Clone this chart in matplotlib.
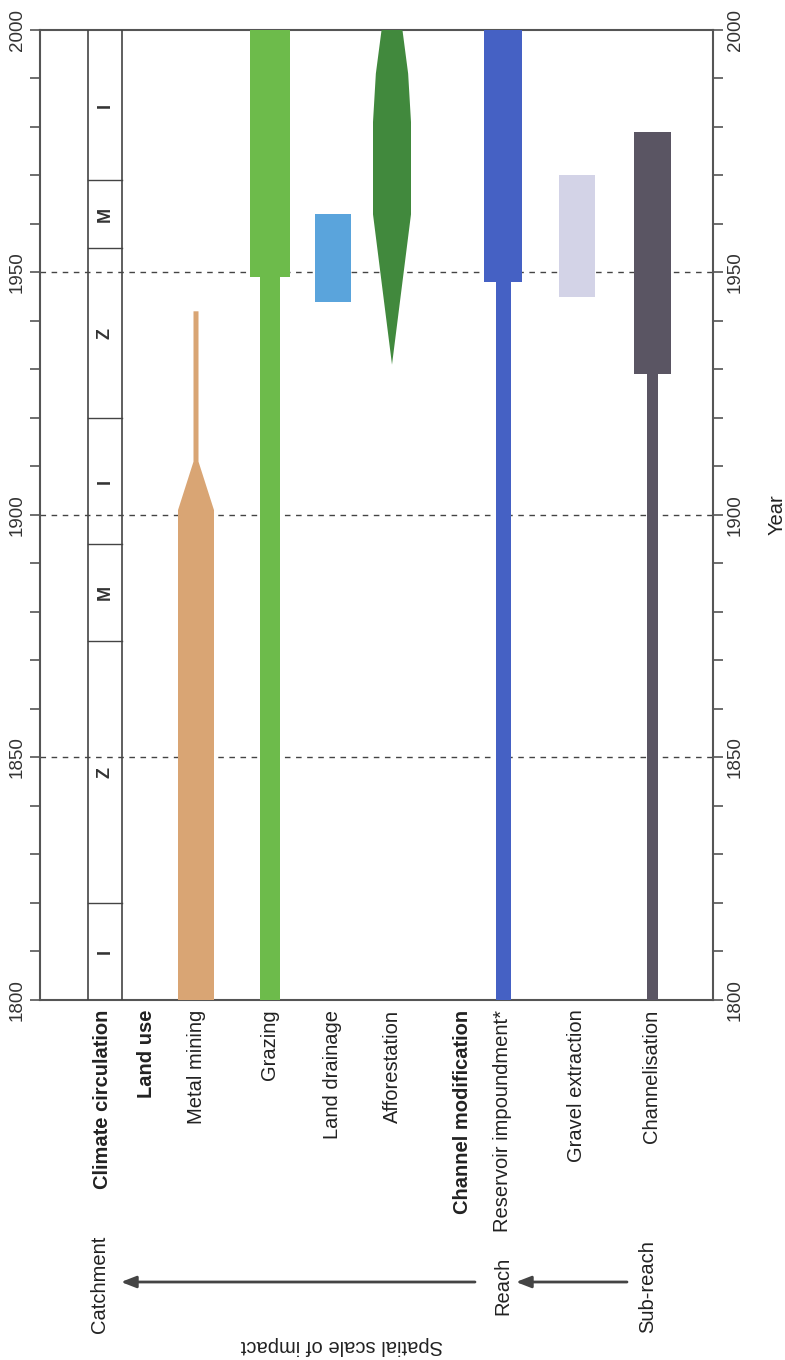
import matplotlib
matplotlib.use("Agg")
import matplotlib.pyplot as plt
from matplotlib.patches import Polygon, Rectangle

plt.rcParams['font.family'] = ['Liberation Sans', 'DejaVu Sans']

# --- DATA (years) ---
climate_bounds = [1800, 1820, 1874, 1894, 1920, 1955, 1969, 2000]
climate_phases = ["I", "Z", "M", "I", "Z", "M", "I"]

mining_years = [1800, 1901, 1911, 1942]        # wide -> taper -> narrow
grazing_years = [1800, 1949, 2000]             # narrow, then wide
drainage_years = [1944, 1962]
afforest_years = [1931, 1962, 1981, 1991, 2000]
afforest_rel_width = [0.0, 1.0, 1.0, 0.85, 0.55]
reservoir_years = [1800, 1948, 2000]
gravel_years = [1945, 1970]
channel_years = [1800, 1929, 1979]

decade_lines = [1850, 1900, 1950]
major_ticks = [1800, 1850, 1900, 1950, 2000]

row_labels = ["Climate circulation", "Land use", "Metal mining", "Grazing",
              "Land drainage", "Afforestation", "Channel modification",
              "Reservoir impoundment*", "Gravel extraction", "Channelisation"]
row_bold = [True, True, False, False, False, False, True, False, False, False]

# --- LAYOUT (horizontal positions, axes units = pixels from left spine) ---
row_x = [63, 106, 156, 230, 293, 352, 422, 463, 537, 612]
climate_edges = (48, 82)
colors = {
    "mining": "#d9a574", "grazing": "#6dbb4b", "drainage": "#5aa4dc",
    "afforest": "#41893d", "reservoir": "#4561c4", "gravel": "#d3d3e7",
    "channel": "#5a5563",
}
dark = "#444444"

W, H = 785, 1360
fig = plt.figure(figsize=(W / 100, H / 100), dpi=100)
ax = fig.add_axes([40 / W, 1 - 1000 / H, 673 / W, 970 / H])
ax.set_xlim(0, 673)
ax.set_ylim(1800, 2000)


def fpx(x, y):
    return x / W, 1 - y / H


def bar(xc, width, y0, y1, color):
    ax.add_patch(Rectangle((xc - width / 2, y0), width, y1 - y0,
                           facecolor=color, edgecolor="none", zorder=3))


# dashed reference years
for yr in decade_lines:
    ax.axhline(yr, color=dark, lw=1, ls=(0, (4, 4)), zorder=2)

# climate circulation column
for xe in climate_edges:
    ax.plot([xe, xe], [1800, 2000], color=dark, lw=1.2, zorder=4)
for b in climate_bounds[1:-1]:
    ax.plot(climate_edges, [b, b], color=dark, lw=1, zorder=4)
for i, ph in enumerate(climate_phases):
    mid = (climate_bounds[i] + climate_bounds[i + 1]) / 2
    ax.text(sum(climate_edges) / 2, mid, ph, rotation=90, ha="center",
            va="center", fontsize=13, fontweight="bold", color="#333333")

# metal mining: wide block tapering into a narrow strip
xm, wm, nm = row_x[2], 36, 5
ax.add_patch(Polygon([
    (xm - wm / 2, mining_years[0]), (xm + wm / 2, mining_years[0]),
    (xm + wm / 2, mining_years[1]), (xm + nm / 2, mining_years[2]),
    (xm + nm / 2, mining_years[3]), (xm - nm / 2, mining_years[3]),
    (xm - nm / 2, mining_years[2]), (xm - wm / 2, mining_years[1]),
], closed=True, facecolor=colors["mining"], edgecolor="none", zorder=3))

# grazing
bar(row_x[3], 20, grazing_years[0], grazing_years[1], colors["grazing"])
bar(row_x[3], 40, grazing_years[1], grazing_years[2], colors["grazing"])

# land drainage
bar(row_x[4], 36, drainage_years[0], drainage_years[1], colors["drainage"])

# afforestation lens
xa, wa = row_x[5], 38
left = [(xa - wa / 2 * w, y) for y, w in zip(afforest_years, afforest_rel_width)]
right = [(xa + wa / 2 * w, y) for y, w in zip(afforest_years, afforest_rel_width)]
ax.add_patch(Polygon(left + right[::-1], closed=True,
                     facecolor=colors["afforest"], edgecolor="none", zorder=3))

# reservoir impoundment
bar(row_x[7], 15, reservoir_years[0], reservoir_years[1], colors["reservoir"])
bar(row_x[7], 38, reservoir_years[1], reservoir_years[2], colors["reservoir"])

# gravel extraction
bar(row_x[8], 36, gravel_years[0], gravel_years[1], colors["gravel"])

# channelisation
bar(row_x[9], 11, channel_years[0], channel_years[1], colors["channel"])
bar(row_x[9], 37, channel_years[1], channel_years[2], colors["channel"])

# axes styling
for sp in ax.spines.values():
    sp.set_color("#555555")
    sp.set_linewidth(1.5)
ax.set_xticks([])
ax.set_yticks(major_ticks)
ax.set_yticks(range(1800, 2001, 10), minor=True)
ax.tick_params(axis="y", which="both", left=True, right=True, direction="out",
               length=7, width=1.2, color="#555555", labelleft=True,
               labelright=True, labelsize=13.5, labelcolor="#333333", pad=3)
for lab in ax.get_yticklabels():
    lab.set_rotation(90)
    lab.set_va("center")

# row labels under the axes
tr = ax.get_xaxis_transform()
for xl, txt, b in zip(row_x, row_labels, row_bold):
    ax.text(xl, -0.010, txt, transform=tr, rotation=90, ha="center", va="top",
            fontsize=14.5, fontweight="bold" if b else "normal",
            color="#222222")

# spatial scale arrows and labels
scale_text = dict(rotation=90, ha="center", va="center", fontsize=14.5,
                  color="#222222")
fig.text(*fpx(99, 1284), "Catchment", **scale_text)
fig.text(*fpx(503, 1286), "Reach", **scale_text)
fig.text(*fpx(648, 1287), "Sub-reach", **scale_text)
arrow = dict(arrowstyle="-|>,head_length=0.9,head_width=0.35", color=dark,
             lw=2, shrinkA=0, shrinkB=0)
ax.annotate("", xy=fpx(121, 1282), xytext=fpx(475, 1282),
            xycoords="figure fraction", textcoords="figure fraction",
            arrowprops=arrow, annotation_clip=False)
ax.annotate("", xy=fpx(516, 1282), xytext=fpx(627, 1282),
            xycoords="figure fraction", textcoords="figure fraction",
            arrowprops=arrow, annotation_clip=False)
fig.text(*fpx(342, 1345), "Spatial scale of impact", rotation=180,
         ha="center", va="center", fontsize=14.5, color="#222222")

fig.text(*fpx(777, 515), "Year", rotation=90, ha="center", va="center",
         fontsize=14.5, color="#222222")

fig.savefig("out.png", dpi=100, facecolor="white")
